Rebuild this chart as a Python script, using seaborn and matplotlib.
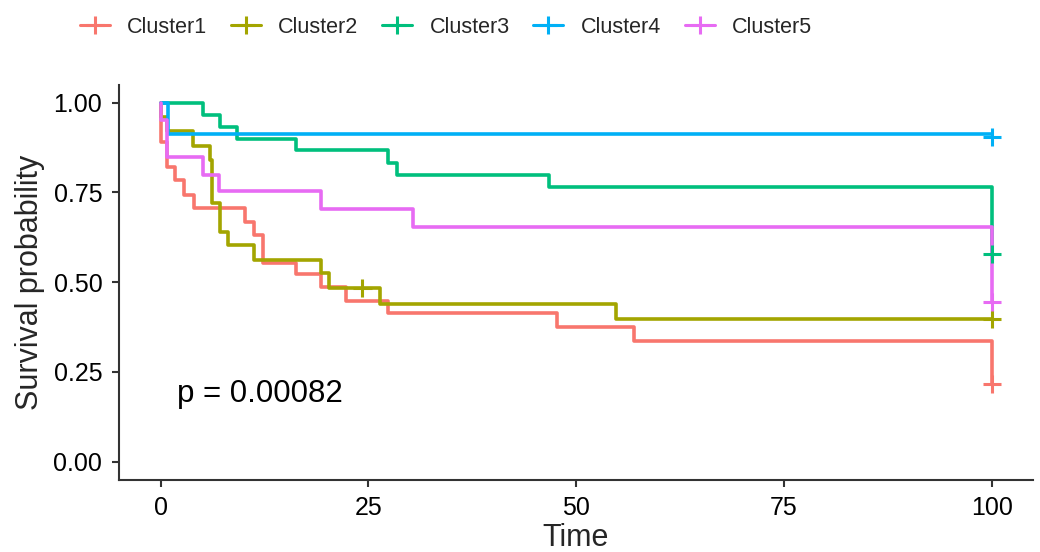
import matplotlib
matplotlib.use("Agg")
import matplotlib.pyplot as plt
from matplotlib.lines import Line2D
import numpy as np
import pandas as pd
import seaborn as sns

# step curves (time, survival after the step)
clusters = ["Cluster1", "Cluster2", "Cluster3", "Cluster4", "Cluster5"]
colors = ["#F8766D", "#A3A500", "#00BF7D", "#00B0F6", "#E76BF3"]

c1_time = [0, 0, 0.8, 1.8, 2.8, 4.05, 10.2, 11.3, 12.3, 16.3, 19.3, 22.3, 27.4, 47.7, 57.0, 100]
c1_surv = [1, 0.891, 0.82, 0.785, 0.743, 0.708, 0.669, 0.631, 0.554, 0.523, 0.487, 0.448, 0.413, 0.374, 0.337, 0.216]

c2_time = [0, 0, 0.8, 3.9, 6.0, 6.2, 7.2, 8.1, 11.2, 19.3, 20.3, 26.4, 54.8, 100]
c2_surv = [1, 0.961, 0.922, 0.880, 0.840, 0.72, 0.641, 0.604, 0.562, 0.525, 0.483, 0.439, 0.397, 0.397]

c3_time = [0, 5.1, 7.2, 9.2, 16.3, 27.4, 28.4, 46.7, 100]
c3_surv = [1, 0.967, 0.933, 0.90, 0.867, 0.833, 0.80, 0.765, 0.579]

c4_time = [0, 0.9, 100]
c4_surv = [1, 0.913, 0.913]

c5_time = [0, 0, 0.8, 5.1, 7.0, 19.3, 30.4, 100]
c5_surv = [1, 0.952, 0.85, 0.80, 0.754, 0.703, 0.655, 0.444]

# censoring marks
cens_cluster = ["Cluster1", "Cluster2", "Cluster2", "Cluster3", "Cluster4", "Cluster5"]
cens_time = [100, 24.3, 100, 100, 100, 100]
cens_surv = [0.216, 0.483, 0.397, 0.579, 0.905, 0.444]

pval_text = "p = 0.00082"

times = [c1_time, c2_time, c3_time, c4_time, c5_time]
survs = [c1_surv, c2_surv, c3_surv, c4_surv, c5_surv]
frames = []
for name, t, s in zip(clusters, times, survs):
    frames.append(pd.DataFrame({"time": t, "surv": s, "cluster": name}))
df = pd.concat(frames, ignore_index=True)
cens = pd.DataFrame({"time": cens_time, "surv": cens_surv, "cluster": cens_cluster})

sns.set_theme(style="ticks")
plt.rcParams["font.family"] = ["Liberation Sans", "DejaVu Sans"]
plt.rcParams["axes.linewidth"] = 1.5
plt.rcParams["xtick.major.width"] = 1.5
plt.rcParams["ytick.major.width"] = 1.5
plt.rcParams["xtick.major.size"] = 5
plt.rcParams["ytick.major.size"] = 5

pal = dict(zip(clusters, colors))

fig = plt.figure(figsize=(10.4, 5.52), dpi=100)
ax = fig.add_axes([0.1144, 0.131, 0.879, 0.7154])

sns.lineplot(data=df, x="time", y="surv", hue="cluster", palette=pal,
             estimator=None, sort=False, drawstyle="steps-post",
             linewidth=2.6, legend=False, ax=ax)
sns.scatterplot(data=cens, x="time", y="surv", hue="cluster", palette=pal,
                marker="+", s=170, linewidth=2.2, legend=False, ax=ax, zorder=5)

ax.set_xlim(-5, 105)
ax.set_ylim(-0.05, 1.05)
ax.set_xticks([0, 25, 50, 75, 100])
ax.set_yticks([0, 0.25, 0.5, 0.75, 1.0])
ax.set_yticklabels(["0.00", "0.25", "0.50", "0.75", "1.00"])
ax.tick_params(labelsize=18, colors="#333333", labelcolor="black", pad=7)
for sp in ["left", "bottom"]:
    ax.spines[sp].set_color("#333333")
sns.despine(ax=ax)
ax.set_xlabel("Time", fontsize=22, labelpad=2)
ax.set_ylabel("Survival probability", fontsize=22, labelpad=6)

ax.text(2, 0.19, pval_text, fontsize=22.5, ha="left", va="center", color="black")

handles = [Line2D([], [], color=c, lw=2.2, marker="+", markersize=13, markeredgewidth=2.2)
           for c in colors]
fig.legend(handles, clusters, loc="center left", bbox_to_anchor=(0.058, 0.951),
           ncol=5, frameon=False, fontsize=15.5, handlelength=1.4,
           handletextpad=0.8, columnspacing=1.1)

fig.savefig("out.png", dpi=100)
